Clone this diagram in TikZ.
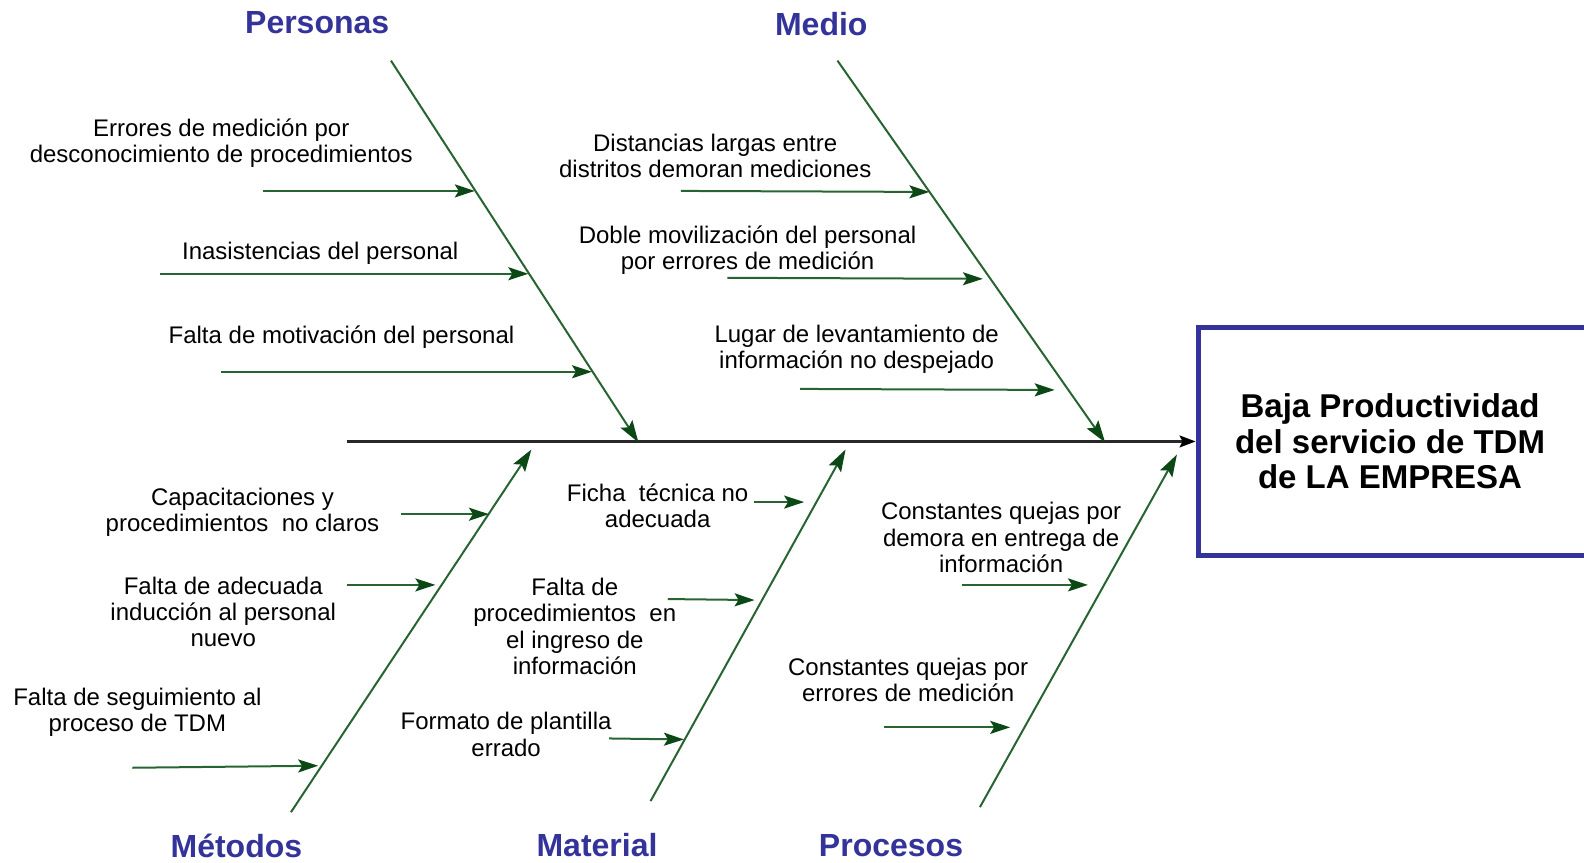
\documentclass[tikz,border=0pt]{standalone}
\usepackage{fontspec}
\setmainfont{Liberation Sans}
\usetikzlibrary{arrows.meta}
\definecolor{bonegreen}{RGB}{40,100,50}
\definecolor{headgreen}{RGB}{12,72,22}
\definecolor{catblue}{RGB}{51,51,153}
\definecolor{spinegray}{RGB}{40,40,40}
\begin{document}
\begin{tikzpicture}[x=0.505pt,y=-0.505pt,
  cause/.style={font=\fontsize{12}{13.1}\selectfont, align=center, inner sep=0pt},
  cat/.style={font=\fontsize{16}{18}\selectfont\bfseries, text=catblue, inner sep=0pt},
  bone/.style={draw=bonegreen, line width=1pt, -{Stealth[length=11pt,width=7pt,inset=2pt,color=headgreen]}},
  sub/.style={draw=bonegreen, line width=1pt, -{Stealth[length=10pt,width=6.5pt,inset=2pt,color=headgreen]}},
  spine/.style={draw=spinegray, line width=1.1pt, -{Stealth[length=8pt,width=6pt,inset=1.5pt,color=black]}},
  effbox/.style={draw=catblue, line width=2.6pt, minimum width=205pt, minimum height=114pt, inner sep=0pt},
  efftext/.style={font=\fontsize{16.5}{17.7}\selectfont\bfseries, align=center, inner sep=0pt}
]
\useasboundingbox (0,0) rectangle (1568,854);
\clip (0,0) rectangle (1568,854);

% effect
\node[effbox] (box) at (1389,437) {};
\node[efftext] (efftxt) at (1376,437) {Baja Productividad\\del servicio de TDM\\de LA EMPRESA};

% spine
\coordinate (spL) at (343,437);
\draw[spine] (spL) -- (box.west);

% category labels
\node[cat] (cPer) at (314,22) {Personas};
\node[cat] (cMed) at (813,24) {Medio};
\node[cat] (cMet) at (234,837) {Métodos};
\node[cat] (cMat) at (591,837) {Material};
\node[cat] (cPro) at (882,837) {Procesos};

% bones
\coordinate (perA) at (387,60);  \coordinate (perB) at (632,438);
\coordinate (medA) at (829,60);  \coordinate (medB) at (1094,438);
\coordinate (metA) at (288,804); \coordinate (metB) at (526,445);
\coordinate (matA) at (644,793); \coordinate (matB) at (837,445);
\coordinate (proA) at (970,799); \coordinate (proB) at (1165,450);
\draw[bone] (perA) -- (perB);
\draw[bone] (medA) -- (medB);
\draw[bone] (metA) -- (metB);
\draw[bone] (matA) -- (matB);
\draw[bone] (proA) -- (proB);

% Personas causes
\node[cause] (p1) at (219,142) {Errores de medición por\\desconocimiento de procedimientos};
\node[cause] (p2) at (317,251) {Inasistencias del personal};
\node[cause] (p3) at (338,334) {Falta de motivación del personal};
\coordinate (p1s) at (260,189); \coordinate (p1e) at (470,189);
\coordinate (p2s) at (158,271); \coordinate (p2e) at (523,271);
\coordinate (p3s) at (219,368); \coordinate (p3e) at (586,368);
\draw[sub] (p1s) -- (p1e);
\draw[sub] (p2s) -- (p2e);
\draw[sub] (p3s) -- (p3e);

% Medio causes
\node[cause] (m1) at (708,154) {Distancias largas entre\\distritos demoran mediciones};
\node[cause] (m2) at (740,248) {Doble movilización del personal\\por errores de medición};
\node[cause] (m3) at (848,346) {Lugar de levantamiento de\\información no despejado};
\coordinate (m1s) at (674,189); \coordinate (m1e) at (920,190);
\coordinate (m2s) at (720,275); \coordinate (m2e) at (973,276);
\coordinate (m3s) at (792,385); \coordinate (m3e) at (1044,386);
\draw[sub] (m1s) -- (m1e);
\draw[sub] (m2s) -- (m2e);
\draw[sub] (m3s) -- (m3e);

% Metodos causes
\node[cause] (t1) at (240,507) {Capacitaciones y\\procedimientos\ \ no claros};
\node[cause] (t2) at (221,606) {Falta de adecuada\\inducción al personal\\nuevo};
\node[cause] (t3) at (136,705) {Falta de seguimiento al\\proceso de TDM};
\coordinate (t1s) at (397,509); \coordinate (t1e) at (484,509);
\coordinate (t2s) at (343,579); \coordinate (t2e) at (431,579);
\coordinate (t3s) at (131,760); \coordinate (t3e) at (315,758);
\draw[sub] (t1s) -- (t1e);
\draw[sub] (t2s) -- (t2e);
\draw[sub] (t3s) -- (t3e);

% Material causes
\node[cause] (a1) at (651,501) {Ficha\ \ técnica no\\adecuada};
\node[cause] (a2) at (569,620) {Falta de\\procedimientos\ \ en\\el ingreso de\\información};
\node[cause] (a3) at (501,727) {Formato de plantilla\\errado};
\coordinate (a1s) at (746,497); \coordinate (a1e) at (796,497);
\coordinate (a2s) at (661,593); \coordinate (a2e) at (747,594);
\coordinate (a3s) at (603,731); \coordinate (a3e) at (677,732);
\draw[sub] (a1s) -- (a1e);
\draw[sub] (a2s) -- (a2e);
\draw[sub] (a3s) -- (a3e);

% Procesos causes
\node[cause] (r1) at (991,532) {Constantes quejas por\\demora en entrega de\\información};
\node[cause] (r2) at (899,673) {Constantes quejas por\\errores de medición};
\coordinate (r1s) at (952,579); \coordinate (r1e) at (1077,579);
\coordinate (r2s) at (875,720); \coordinate (r2e) at (1000,720);
\draw[sub] (r1s) -- (r1e);
\draw[sub] (r2s) -- (r2e);
\end{tikzpicture}
\end{document}
